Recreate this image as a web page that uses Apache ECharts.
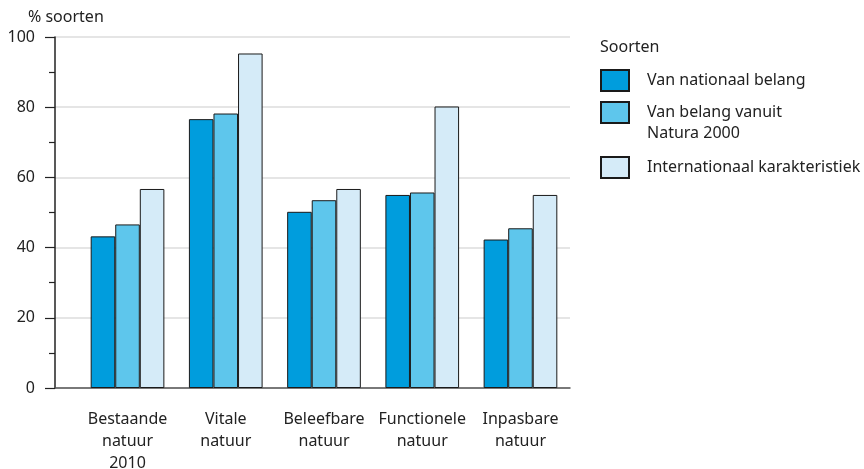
<!DOCTYPE html>
<html>
<head>
<meta charset="utf-8">
<script src="https://cdn.jsdelivr.net/npm/echarts@6/dist/echarts.min.js"></script>
<style>
  html, body { margin: 0; padding: 0; background: #fff; }
  #chart { width: 864px; height: 469px; }
</style>
</head>
<body>
<div id="chart"></div>
<script>
// categorieën en waarden (% soorten)
const categories = ['Bestaande\nnatuur\n2010', 'Vitale\nnatuur', 'Beleefbare\nnatuur', 'Functionele\nnatuur', 'Inpasbare\nnatuur']
const seriesNames = ['Van nationaal belang', 'Van belang vanuit\nNatura 2000', 'Internationaal karakteristiek']
const nationaal = [43.2, 76.6, 50.2, 55.0, 42.3]
const natura2000 = [46.6, 78.2, 53.5, 55.7, 45.5]
const internationaal = [56.7, 95.3, 56.7, 80.2, 55.0]
const yTicks = [0, 20, 40, 60, 80, 100]

const colors = ['#009ddd', '#5ec6ec', '#d5ebf8']
const font = 'Noto Sans'
const textColor = '#222'
const fontSize = 16

const chart = echarts.init(document.getElementById('chart'))

// één legenda per item, zodat de tweeregelige tekst goed uitlijnt
const legendItem = (name, top, twoLines) => ({
  data: [name],
  left: 600,
  top: top,
  padding: 0,
  itemWidth: 28,
  itemHeight: 21,
  icon: 'rect',
  selectedMode: false,
  // lege eerste regel: de eerste tekstregel komt dan naast het vlakje
  formatter: (n) => (twoLines ? '\n' + n : n),
  textStyle: {
    fontFamily: font,
    fontSize: fontSize,
    lineHeight: 21,
    color: textColor,
    padding: [0, 0, 0, 13],
  },
})

const barSeries = (name, data, color) => ({
  name: name,
  type: 'bar',
  xAxisIndex: 1,
  yAxisIndex: 1,
  data: data,
  barGap: '0%',
  barCategoryGap: '25%',
  itemStyle: {
    color: color,
    borderColor: '#1a1a1a',
    borderWidth: 1,
  },
})

const option = {
  animation: false,
  title: [
    {
      text: '% soorten',
      left: 28,
      top: 9,
      padding: 0,
      textStyle: { fontFamily: font, fontSize: fontSize, fontWeight: 'normal', color: textColor },
    },
    {
      text: 'Soorten',
      left: 600,
      top: 39,
      padding: 0,
      textStyle: { fontFamily: font, fontSize: fontSize, fontWeight: 'normal', color: textColor },
    },
  ],
  legend: [
    legendItem(seriesNames[0], 69, false),
    legendItem(seriesNames[1], 81, true),
    legendItem(seriesNames[2], 156, false),
  ],
  grid: [
    { left: 55, right: 294, top: 37, bottom: 81, outerBoundsMode: 'none', containLabel: false },
    { left: 78.4, right: 294.4, top: 37, bottom: 81, outerBoundsMode: 'none', containLabel: false },
  ],
  xAxis: [
    {
      gridIndex: 0,
      type: 'value',
      min: 0,
      max: 1,
      axisLine: { show: true, onZero: false, lineStyle: { color: '#555', width: 1.5 } },
      axisTick: { show: false },
      axisLabel: { show: false },
      splitLine: { show: false },
    },
    {
      gridIndex: 1,
      type: 'category',
      data: categories,
      axisLine: { show: false },
      axisTick: { show: false },
      axisLabel: {
        margin: 20,
        fontFamily: font,
        fontSize: fontSize,
        lineHeight: 22,
        color: textColor,
        interval: 0,
      },
    },
  ],
  yAxis: [
    {
      gridIndex: 0,
      type: 'value',
      min: yTicks[0],
      max: yTicks[yTicks.length - 1],
      interval: 20,
      axisLine: { show: true, lineStyle: { color: '#222', width: 1.5 } },
      axisTick: { show: true, length: 10, lineStyle: { color: '#222', width: 1.2 } },
      minorTick: { show: true, splitNumber: 2, length: 6, lineStyle: { color: '#222', width: 1.2 } },
      axisLabel: { margin: 20, fontFamily: font, fontSize: fontSize, color: textColor },
      splitLine: { show: true, lineStyle: { color: '#dcdcdc', width: 1.5 } },
    },
    {
      gridIndex: 1,
      type: 'value',
      min: yTicks[0],
      max: yTicks[yTicks.length - 1],
      show: false,
      splitLine: { show: false },
    },
  ],
  series: [
    barSeries(seriesNames[0], nationaal, colors[0]),
    barSeries(seriesNames[1], natura2000, colors[1]),
    barSeries(seriesNames[2], internationaal, colors[2]),
  ],
}

chart.setOption(option)
</script>
</body>
</html>
